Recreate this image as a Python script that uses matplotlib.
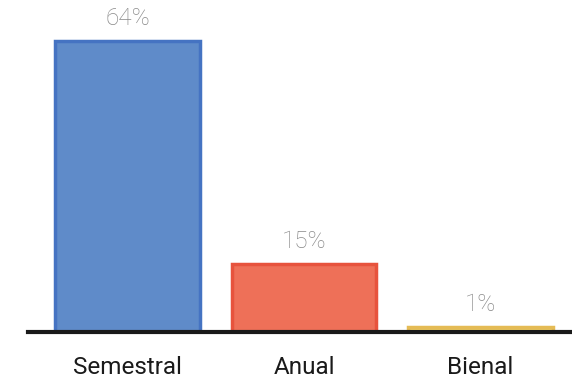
import matplotlib
matplotlib.use("Agg")
import matplotlib.pyplot as plt

# data
categories = ["Semestral", "Anual", "Bienal"]
values = [64, 15, 1]
labels = ["64%", "15%", "1%"]

fill_colors = ["#5f8bc9", "#ee7058", "#f5d364"]
edge_colors = ["#4573c2", "#e7533d", "#e5bb55"]

fig = plt.figure(figsize=(5.72, 3.81), dpi=100)
ax = fig.add_axes([28 / 572, 49 / 381, 544 / 572, 332 / 381])

x = range(len(categories))
ax.bar(x, values, width=0.82, color=fill_colors, edgecolor=edge_colors,
       linewidth=2.5, zorder=2)

# value labels above the bars
for i, v in enumerate(values):
    ax.annotate(labels[i], (i, v), xytext=(0, 8), textcoords="offset points",
                ha="center", va="bottom", fontsize=17.5, color="#888888",
                family="Roboto", fontweight="light")

ax.set_xlim(-0.564, 2.518)
ax.set_ylim(0, 73)

for s in ["top", "right", "left"]:
    ax.spines[s].set_visible(False)
ax.spines["bottom"].set_linewidth(3)
ax.spines["bottom"].set_color("#1a1a1a")
ax.spines["bottom"].set_zorder(3)

ax.set_yticks([])
ax.set_xticks(list(x))
ax.set_xticklabels(categories, fontsize=17.5, family="Roboto", color="#1a1a1a")
ax.tick_params(axis="x", length=0, pad=17)

fig.savefig("out.png", dpi=100)
